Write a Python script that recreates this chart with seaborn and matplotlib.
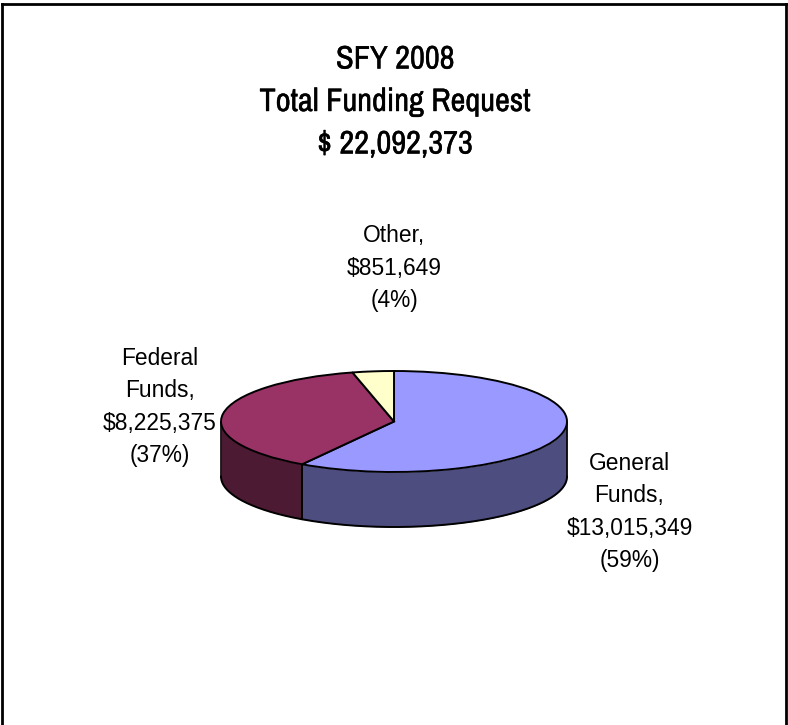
import numpy as np
import matplotlib
matplotlib.use("Agg")
import matplotlib.pyplot as plt
import matplotlib.patheffects as pe
import seaborn as sns

sns.set_theme(style="white")
plt.rcParams['font.family'] = ['Liberation Sans', 'DejaVu Sans']

# Data
categories = ["General\nFunds,", "Federal\nFunds,", "Other,"]
amounts = [13015349, 8225375, 851649]
amount_labels = ["$13,015,349", "$8,225,375", "$851,649"]
percents = ["(59%)", "(37%)", "(4%)"]
title_lines = ["SFY 2008", "Total Funding Request", "$ 22,092,373"]
top_colors = ["#9999FF", "#993366", "#FFFFCC"]
side_colors = ["#4D4D80", "#4D1A33", "#808066"]

W, H = 788, 725
CX, CY, RX, RY, DEPTH = 394, 421.5, 173, 50.5, 55

fig = plt.figure(figsize=(W / 100, H / 100), dpi=100, facecolor="white")
ax = fig.add_axes([0, 0, 1, 1])

ax.pie(amounts, colors=top_colors, startangle=90, counterclock=False, radius=1,
       wedgeprops=dict(edgecolor="black", linewidth=1.4, zorder=3))
ax.set_aspect("auto")
ax.set_xlim(-CX / RX, (W - CX) / RX)
ax.set_ylim(-(H - CY) / RY, CY / RY)
d = DEPTH / RY

# Side wall of the disc, from the same values
fracs = np.array(amounts) / sum(amounts)
edges = np.concatenate([[0], np.cumsum(fracs)]) * 2 * np.pi
for i in range(len(amounts)):
    a0, a1 = max(edges[i], np.pi / 2), min(edges[i + 1], 3 * np.pi / 2)
    if a1 <= a0:
        continue
    t = np.linspace(a0, a1, 200)
    x, y = np.sin(t), np.cos(t)
    ax.fill_between(x, y, y - d, color=side_colors[i], linewidth=0, zorder=1)
    ax.plot(x, y - d, color="black", lw=1.4, zorder=2)
    ax.plot([x[0], x[0]], [y[0], y[0] - d], color="black", lw=1.2, zorder=2)
    ax.plot([x[-1], x[-1]], [y[-1], y[-1] - d], color="black", lw=1.2, zorder=2)


def px(x, y):
    return x / W, 1 - y / H


# Title
narrow = ['Archivo Narrow', 'Barlow Condensed', 'Liberation Sans', 'DejaVu Sans']
for line, yy in zip(title_lines, [59.5, 102, 144.5]):
    ax.text(*px(395, yy), line, transform=ax.transAxes, ha="center", va="center",
            fontsize=23.4, family=narrow, color="black",
            path_effects=[pe.withStroke(linewidth=0.3, foreground="black")])

# Labels
positions = [(629.5, 512), (160, 407), (394, 268)]
for cat, amt, pct, (lx, ly) in zip(categories, amount_labels, percents, positions):
    ax.text(*px(lx, ly), f"{cat}\n{amt}\n{pct}", transform=ax.transAxes, ha="center",
            va="center", fontsize=16.4, color="black", linespacing=1.52)

# Border (open at the bottom)
for (x0, y0), (x1, y1) in [((1.5, H), (1.5, 3.5)), ((1.5, 3.5), (786, 3.5)), ((786, 3.5), (786, H))]:
    ax.plot([x0 / W, x1 / W], [1 - y0 / H, 1 - y1 / H], transform=ax.transAxes,
            color="black", lw=2.0, clip_on=False, solid_capstyle="projecting")

fig.savefig("out.png", dpi=100)
